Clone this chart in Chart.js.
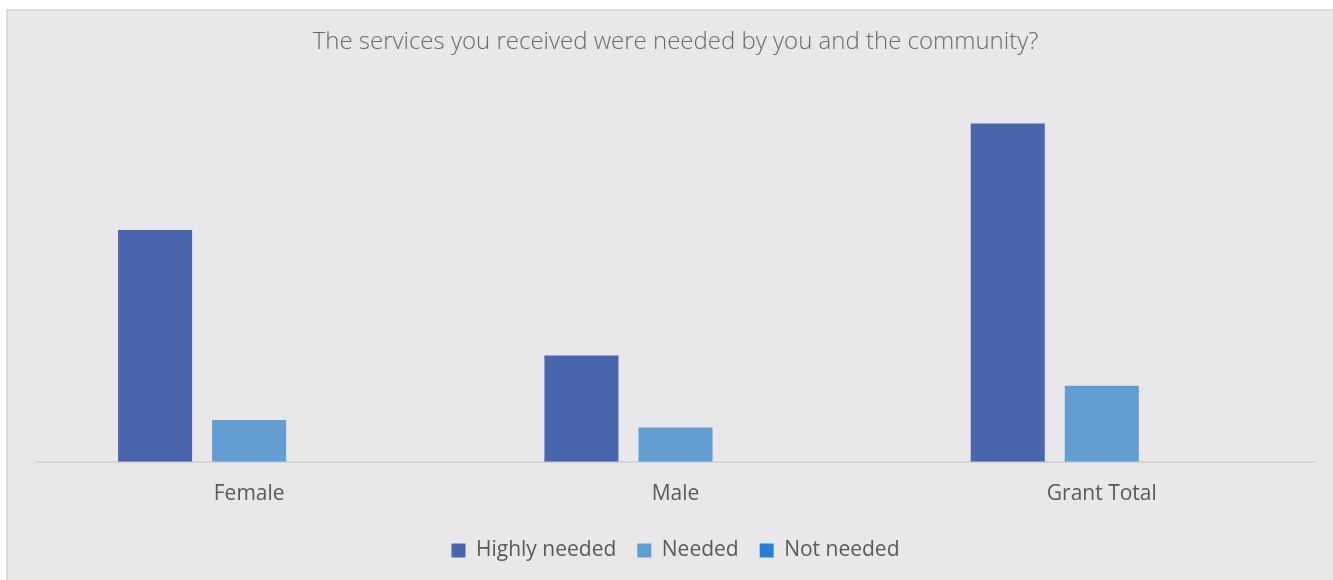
<!DOCTYPE html>
<html>
<head>
<meta charset="utf-8">
<script src="https://cdn.jsdelivr.net/npm/chart.js@4"></script>
<style>
  html, body { margin: 0; padding: 0; background: #ffffff; overflow: hidden; }
  #frame {
    position: absolute; left: 6px; top: 9px; width: 1325px; height: 569px;
    background: #e9e7ea; border-left: 2px solid #d9d9d9; border-top: 2px solid #d9d9d9;
  }
  #wrap { position: absolute; left: 0; top: 0; width: 1325px; height: 569px; }
</style>
</head>
<body>
<div id="frame"><div id="wrap"><canvas id="servicesChart"></canvas></div></div>
<script>
// Survey answers by respondent group
const groups = ['Female', 'Male', 'Grant Total'];
const highlyNeeded = [61, 28, 89];
const needed = [11, 9, 20];
const notNeeded = [0, 0, 0];

const seriesLabels = ['Highly needed', 'Needed', 'Not needed'];
const seriesColors = ['#4865ae', '#629ed2', '#2a7ed6'];

const textColor = '#595959';
const fontFamily = "'Open Sans', 'Noto Sans', sans-serif";

new Chart(document.getElementById('servicesChart'), {
  type: 'bar',
  data: {
    labels: groups,
    datasets: [highlyNeeded, needed, notNeeded].map((values, i) => ({
      label: seriesLabels[i],
      data: values,
      backgroundColor: seriesColors[i],
      borderWidth: 0,
      categoryPercentage: 0.662,
      barPercentage: 0.787
    }))
  },
  options: {
    responsive: true,
    maintainAspectRatio: false,
    animation: false,
    layout: { padding: { left: 28, right: 18, top: 0, bottom: 9 } },
    plugins: {
      title: {
        display: true,
        text: 'The services you received were needed by you and the community?',
        color: '#6a6a6a',
        font: { family: fontFamily, size: 24, weight: '300' },
        padding: { top: 17, bottom: 25 }
      },
      legend: {
        position: 'bottom',
        labels: {
          color: textColor,
          font: { family: fontFamily, size: 21 },
          boxWidth: 14,
          boxHeight: 14,
          padding: 21
        }
      },
      tooltip: { enabled: false }
    },
    scales: {
      x: {
        grid: { display: false },
        border: { display: true, color: '#d5d4d8', width: 2 },
        ticks: { color: textColor, font: { family: fontFamily, size: 21 }, padding: 12 }
      },
      y: {
        display: false,
        min: 0,
        max: 100
      }
    }
  }
});
</script>
</body>
</html>
